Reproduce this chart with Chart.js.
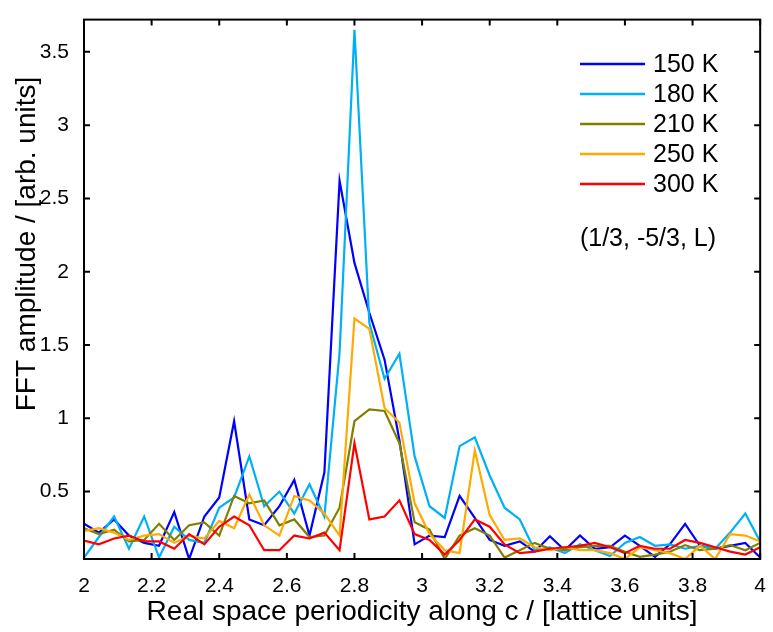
<!DOCTYPE html>
<html>
<head>
<meta charset="utf-8">
<script src="https://cdn.jsdelivr.net/npm/chart.js@4.4.1/dist/chart.umd.min.js"></script>
<style>
  body { margin: 0; background: #fff; }
  #wrap { width: 773px; height: 632px; }
</style>
</head>
<body>
<div id="wrap"><canvas id="fftChart" width="773" height="632"></canvas></div>
<script>
const periodicity = [2.000, 2.044, 2.089, 2.133, 2.178, 2.222, 2.267, 2.311, 2.356, 2.400,
  2.444, 2.489, 2.533, 2.578, 2.622, 2.667, 2.711, 2.756, 2.800, 2.844,
  2.889, 2.933, 2.978, 3.022, 3.067, 3.111, 3.156, 3.200, 3.244, 3.289,
  3.333, 3.378, 3.422, 3.467, 3.511, 3.556, 3.600, 3.644, 3.689, 3.733,
  3.778, 3.822, 3.867, 3.911, 3.956, 4.000];

const amp150 = [0.28, 0.22, 0.31, 0.20, 0.15, 0.13, 0.36, 0.04, 0.33, 0.46,
  0.98, 0.31, 0.27, 0.40, 0.58, 0.20, 0.63, 2.62, 2.06, 1.72,
  1.40, 0.85, 0.14, 0.20, 0.19, 0.47, 0.32, 0.17, 0.13, 0.16,
  0.09, 0.195, 0.10, 0.20, 0.11, 0.12, 0.20, 0.13, 0.055, 0.14,
  0.28, 0.13, 0.11, 0.13, 0.15, 0.05];
const amp180 = [0.05, 0.19, 0.33, 0.11, 0.33, 0.05, 0.26, 0.17, 0.15, 0.39,
  0.46, 0.74, 0.40, 0.50, 0.35, 0.55, 0.33, 1.45, 3.65, 1.65,
  1.27, 1.44, 0.74, 0.40, 0.32, 0.81, 0.87, 0.61, 0.39, 0.31,
  0.10, 0.12, 0.08, 0.14, 0.10, 0.06, 0.15, 0.19, 0.13, 0.14,
  0.11, 0.13, 0.11, 0.22, 0.35, 0.16];
const amp210 = [0.25, 0.21, 0.24, 0.16, 0.17, 0.28, 0.17, 0.27, 0.29, 0.20,
  0.47, 0.42, 0.44, 0.27, 0.31, 0.19, 0.20, 0.39, 0.98, 1.06,
  1.05, 0.83, 0.29, 0.24, 0.04, 0.20, 0.25, 0.20, 0.05, 0.10,
  0.15, 0.11, 0.10, 0.12, 0.13, 0.13, 0.09, 0.055, 0.07, 0.09,
  0.135, 0.10, 0.11, 0.135, 0.10, 0.15];
const amp250 = [0.23, 0.25, 0.22, 0.17, 0.20, 0.21, 0.15, 0.20, 0.18, 0.30,
  0.25, 0.48, 0.27, 0.20, 0.47, 0.44, 0.35, 0.20, 1.68, 1.61,
  1.07, 0.97, 0.42, 0.21, 0.10, 0.08, 0.78, 0.34, 0.17, 0.18,
  0.12, 0.10, 0.12, 0.10, 0.10, 0.08, 0.04, 0.12, 0.10, 0.08,
  0.04, 0.13, 0.04, 0.21, 0.20, 0.16];
const amp300 = [0.165, 0.14, 0.18, 0.20, 0.16, 0.16, 0.11, 0.21, 0.14, 0.26,
  0.33, 0.27, 0.10, 0.10, 0.20, 0.18, 0.22, 0.10, 0.83, 0.31,
  0.33, 0.44, 0.21, 0.17, 0.07, 0.17, 0.31, 0.26, 0.14, 0.08,
  0.09, 0.11, 0.12, 0.13, 0.15, 0.12, 0.08, 0.13, 0.11, 0.11,
  0.17, 0.15, 0.12, 0.09, 0.07, 0.12];

const seriesLabels = ['150 K', '180 K', '210 K', '250 K', '300 K'];
const seriesColors = ['#0000ff', '#00b0f6', '#808000', '#ffaa00', '#ff0000'];
const xTicks = [2, 2.2, 2.4, 2.6, 2.8, 3, 3.2, 3.4, 3.6, 3.8, 4];
const yTicks = [0.5, 1, 1.5, 2, 2.5, 3, 3.5];
const xTitle = 'Real space periodicity along c / [lattice units]';
const yTitle = 'FFT amplitude / [arb. units]';
const annotation = '(1/3, -5/3, L)';

const font = "'Liberation Sans', Arial, sans-serif";

const toPoints = (ys) => ys.map((y, i) => ({x: periodicity[i], y: y}));

// axes box with inward ticks on all four sides, like the original
const framePlugin = {
  id: 'frame',
  afterDatasetsDraw(chart) {
    const {ctx, chartArea: a, scales} = chart;
    ctx.save();
    ctx.strokeStyle = '#000';
    ctx.lineWidth = 2;
    ctx.strokeRect(a.left, a.top, a.right - a.left, a.bottom - a.top);
    ctx.beginPath();
    const len = 6;
    scales.x.ticks.forEach(t => {
      const px = scales.x.getPixelForValue(t.value);
      ctx.moveTo(px, a.bottom); ctx.lineTo(px, a.bottom - len);
      ctx.moveTo(px, a.top); ctx.lineTo(px, a.top + len);
    });
    scales.y.ticks.forEach(t => {
      const py = scales.y.getPixelForValue(t.value);
      ctx.moveTo(a.left, py); ctx.lineTo(a.left + len, py);
      ctx.moveTo(a.right, py); ctx.lineTo(a.right - len, py);
    });
    ctx.stroke();

    // y title sits a bit above the middle of the axis in the original
    ctx.fillStyle = '#000';
    ctx.font = '28px ' + font;
    ctx.textAlign = 'center';
    ctx.textBaseline = 'middle';
    ctx.translate(27, 244);
    ctx.rotate(-Math.PI / 2);
    ctx.fillText(yTitle, 0, 0);
    ctx.restore();
  }
};

const legendPlugin = {
  id: 'boxLegend',
  afterDraw(chart) {
    const {ctx} = chart;
    ctx.save();
    ctx.font = '25px ' + font;
    ctx.textBaseline = 'middle';
    chart.data.datasets.forEach((ds, i) => {
      const y = 64 + i * 30;
      ctx.strokeStyle = ds.borderColor;
      ctx.lineWidth = 2.5;
      ctx.beginPath();
      ctx.moveTo(580, y); ctx.lineTo(645, y);
      ctx.stroke();
      ctx.fillStyle = '#000';
      ctx.fillText(ds.label, 653, y + 1);
    });
    ctx.textAlign = 'center';
    ctx.fillText(annotation, 648, 239);
    ctx.restore();
  }
};

const datasets = [amp150, amp180, amp210, amp250, amp300].map((ys, i) => ({
  label: seriesLabels[i],
  data: toPoints(ys),
  borderColor: seriesColors[i],
  backgroundColor: seriesColors[i],
  borderWidth: 2.2,
  pointRadius: 0,
  tension: 0,
  order: 5 - i
}));

const config = {
  type: 'line',
  data: {datasets: datasets},
  options: {
    responsive: false,
    animation: false,
    devicePixelRatio: 1,
    layout: {padding: {left: 0, right: 8, top: 15, bottom: 0}},
    plugins: {legend: {display: false}, tooltip: {enabled: false}},
    scales: {
      x: {
        type: 'linear',
        min: 2,
        max: 4,
        afterBuildTicks: s => { s.ticks = xTicks.map(v => ({value: v})); },
        afterFit: s => { s.height = 73; },
        grid: {display: false},
        border: {display: false},
        ticks: {
          color: '#000',
          padding: 7,
          maxRotation: 0,
          font: {family: font, size: 21},
          callback: v => String(Math.round(v * 10) / 10)
        },
        title: {
          display: true,
          text: xTitle,
          color: '#000',
          font: {family: font, size: 28},
          padding: {top: 0, bottom: 3}
        }
      },
      y: {
        type: 'linear',
        min: 0.04,
        max: 3.72,
        afterBuildTicks: s => { s.ticks = yTicks.map(v => ({value: v})); },
        afterFit: s => { s.width = 84; },
        grid: {display: false},
        border: {display: false},
        ticks: {
          color: '#000',
          padding: 7,
          font: {family: font, size: 21},
          callback: v => String(Math.round(v * 10) / 10)
        }
      }
    }
  },
  plugins: [framePlugin, legendPlugin]
};

const fftChart = new Chart(document.getElementById('fftChart'), config);
</script>
</body>
</html>
